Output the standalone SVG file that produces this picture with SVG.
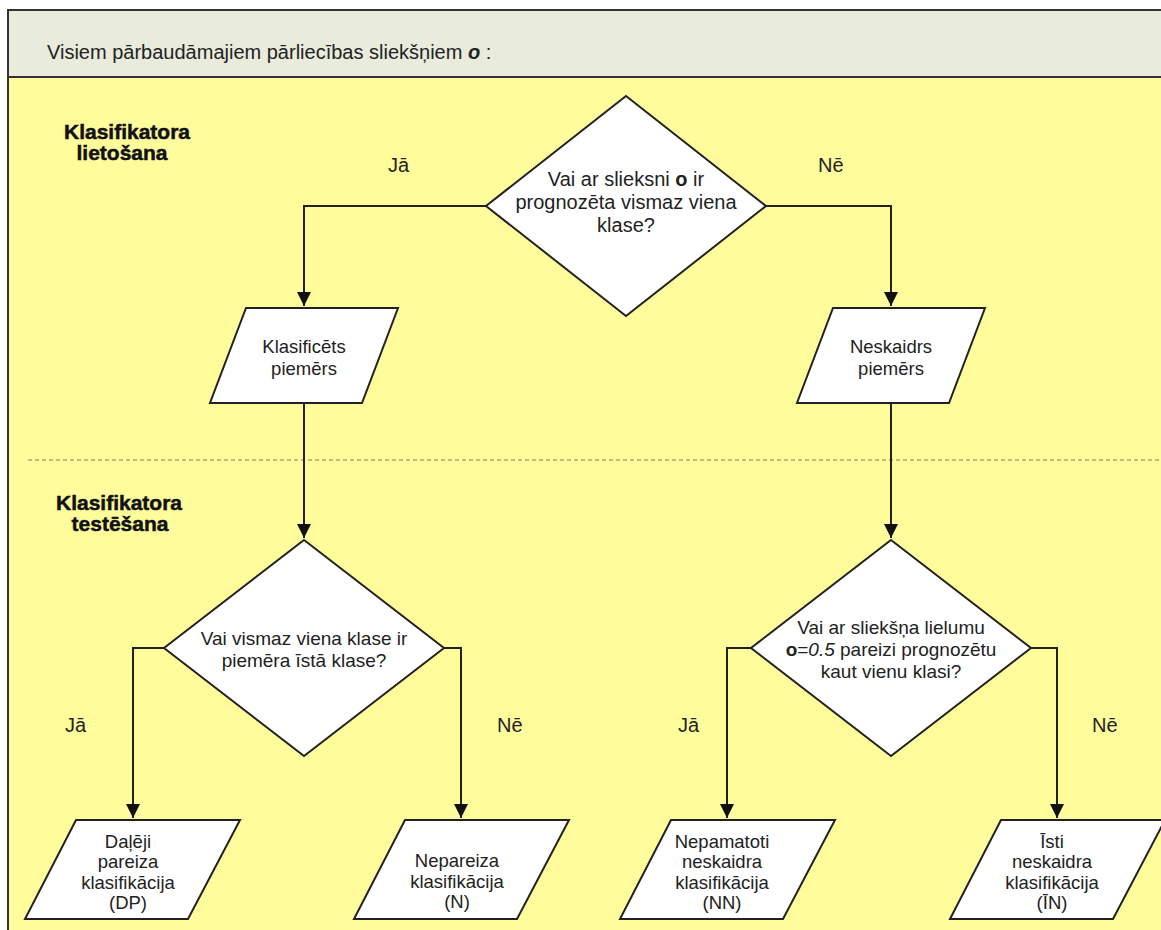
<svg xmlns="http://www.w3.org/2000/svg" width="1161" height="930" viewBox="0 0 1161 930">
  <defs>
    <marker id="arrow" markerWidth="14" markerHeight="16" refX="14" refY="7" orient="auto" markerUnits="userSpaceOnUse">
      <path d="M0,0 L14,7 L0,14 Z" fill="#111"/>
    </marker>
    <style>
      .frame { fill: #FFFC9C; stroke: #333; stroke-width: 2; }
      .band { fill: #E9EBDC; stroke: #333; stroke-width: 2; }
      .shape { fill: #FFFFFF; stroke: #222; stroke-width: 2; stroke-linejoin: miter; }
      .conn { fill: none; stroke: #222; stroke-width: 2; }
      .sep { stroke: #8A7D5C; stroke-width: 1; stroke-dasharray: 4 3; fill: none; }
      .t { font-family: "Liberation Sans", Arial, sans-serif; fill: #222; text-anchor: middle; }
      .d { font-size: 19px; }
      .p { font-size: 18.5px; }
      .lbl { font-family: "Liberation Sans", Arial, sans-serif; font-size: 20px; fill: #222; }
      .sec { font-family: "Liberation Sans", Arial, sans-serif; font-size: 21px; font-weight: bold; fill: #111; stroke: #111; stroke-width: 0.5; text-anchor: middle; }
    </style>
  </defs>

  <rect width="1161" height="930" fill="#FFFFFF"/>

  <!-- outer frame and title band -->
  <rect class="frame" x="8" y="10" width="1170" height="940"/>
  <rect class="band" x="8" y="10" width="1170" height="67"/>
  <text class="lbl" x="47" y="59">Visiem pārbaudāmajiem pārliecības sliekšņiem <tspan font-weight="bold" font-style="italic">o</tspan> :</text>

  <!-- section divider -->
  <line class="sep" x1="28" y1="460" x2="1161" y2="460"/>

  <!-- section titles -->
  <text class="sec" x="127" y="139">Klasifikatora</text>
  <text class="sec" x="122" y="160">lietošana</text>
  <text class="sec" x="119" y="510">Klasifikatora</text>
  <text class="sec" x="120" y="531">testēšana</text>

  <!-- branch labels -->
  <text class="lbl" x="388" y="172">Jā</text>
  <text class="lbl" x="818" y="172">Nē</text>
  <text class="lbl" x="65" y="732">Jā</text>
  <text class="lbl" x="497" y="732">Nē</text>
  <text class="lbl" x="678" y="732">Jā</text>
  <text class="lbl" x="1092" y="732">Nē</text>

  <!-- connectors -->
  <g id="connectors">
    <path class="conn" d="M486,206 H304 V306" marker-end="url(#arrow)"/>
    <path class="conn" d="M766,206 H891 V306" marker-end="url(#arrow)"/>
    <path class="conn" d="M304,403 V538" marker-end="url(#arrow)"/>
    <path class="conn" d="M891,403 V538" marker-end="url(#arrow)"/>
    <path class="conn" d="M164,648 H133 V818" marker-end="url(#arrow)"/>
    <path class="conn" d="M444,648 H461 V818" marker-end="url(#arrow)"/>
    <path class="conn" d="M751,648 H727 V818" marker-end="url(#arrow)"/>
    <path class="conn" d="M1031,648 H1057 V818" marker-end="url(#arrow)"/>
  </g>

  <!-- decision: any class predicted -->
  <g id="decision-top">
    <polygon class="shape" points="626,96 766,206 626,316 486,206"/>
    <text class="t" style="font-size:20px" x="626" y="186">Vai ar slieksni <tspan font-weight="bold">o</tspan> ir</text>
    <text class="t" style="font-size:20px" x="626" y="209">prognozēta vismaz viena</text>
    <text class="t" style="font-size:20px" x="626" y="232">klase?</text>
  </g>

  <g id="classified">
    <polygon class="shape" points="246,308 398,308 362,403 210,403"/>
    <text class="t p" x="304" y="353">Klasificēts</text>
    <text class="t p" x="304" y="375">piemērs</text>
  </g>

  <g id="unclear">
    <polygon class="shape" points="833,308 985,308 949,403 797,403"/>
    <text class="t p" x="891" y="353">Neskaidrs</text>
    <text class="t p" x="891" y="375">piemērs</text>
  </g>

  <!-- decision: true class among predicted -->
  <g id="decision-left">
    <polygon class="shape" points="304,540 444,648 304,756 164,648"/>
    <text class="t d" x="304" y="645">Vai vismaz viena klase ir</text>
    <text class="t d" x="304" y="667">piemēra īstā klase?</text>
  </g>

  <!-- decision: correct at threshold 0.5 -->
  <g id="decision-right">
    <polygon class="shape" points="891,540 1031,648 891,756 751,648"/>
    <text class="t d" x="891" y="634">Vai ar sliekšņa lielumu</text>
    <text class="t d" x="891" y="656"><tspan font-weight="bold">o</tspan>=<tspan font-style="italic">0.5</tspan> pareizi prognozētu</text>
    <text class="t d" x="891" y="678">kaut vienu klasi?</text>
  </g>

  <!-- outcomes -->
  <g id="outcome-dp">
    <polygon class="shape" points="76,820 240,820 188,919 25,919"/>
    <text class="t p" x="128" y="848">Daļēji</text>
    <text class="t p" x="128" y="868">pareiza</text>
    <text class="t p" x="128" y="889">klasifikācija</text>
    <text class="t p" x="128" y="909">(DP)</text>
  </g>

  <g id="outcome-n">
    <polygon class="shape" points="405,820 569,820 517,919 354,919"/>
    <text class="t p" x="457" y="867">Nepareiza</text>
    <text class="t p" x="457" y="888">klasifikācija</text>
    <text class="t p" x="457" y="908">(N)</text>
  </g>

  <g id="outcome-nn">
    <polygon class="shape" points="671,820 835,820 783,919 620,919"/>
    <text class="t p" x="722" y="848">Nepamatoti</text>
    <text class="t p" x="722" y="868">neskaidra</text>
    <text class="t p" x="722" y="889">klasifikācija</text>
    <text class="t p" x="722" y="909">(NN)</text>
  </g>

  <g id="outcome-in">
    <polygon class="shape" points="1001,820 1165,820 1113,919 950,919"/>
    <text class="t p" x="1052" y="848">Īsti</text>
    <text class="t p" x="1052" y="868">neskaidra</text>
    <text class="t p" x="1052" y="889">klasifikācija</text>
    <text class="t p" x="1052" y="909">(ĪN)</text>
  </g>
</svg>
